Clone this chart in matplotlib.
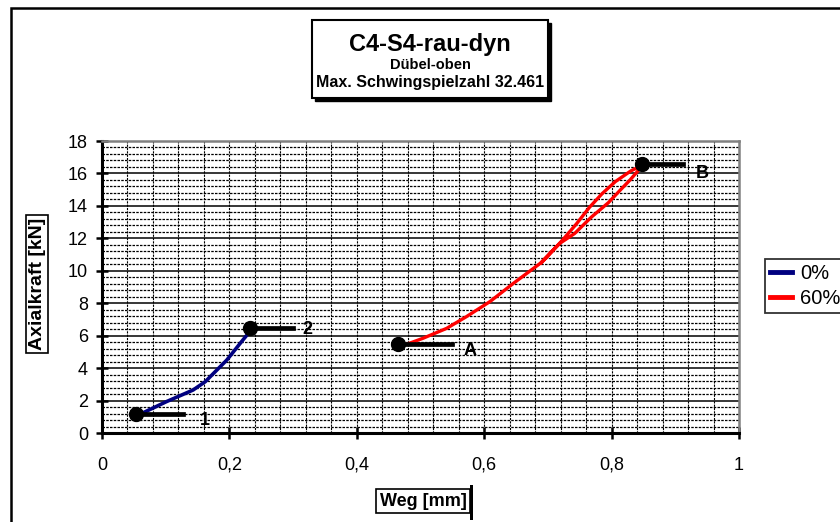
import matplotlib
matplotlib.use("Agg")
from matplotlib import pyplot as plt
from matplotlib.patches import Rectangle
from matplotlib.ticker import MultipleLocator, FuncFormatter

plt.rcParams['font.family'] = ['Liberation Sans', 'DejaVu Sans']

# 0% curve (blue)
weg_0 = [0.054, 0.101, 0.143, 0.162, 0.196, 0.217, 0.235]
kraft_0 = [1.05, 1.93, 2.65, 3.16, 4.5, 5.53, 6.4]

# 60% curve (red) - rising part then loop up to B and back down
weg_60 = [0.468, 0.504, 0.541, 0.572, 0.609, 0.646, 0.688, 0.719,
          0.742, 0.768, 0.795, 0.813, 0.829, 0.845, 0.850,
          0.845, 0.830, 0.806, 0.785, 0.765, 0.745, 0.722, 0.690]
kraft_60 = [5.32, 5.84, 6.45, 7.17, 8.1, 9.23, 10.46, 11.7,
            12.3, 13.3, 14.2, 14.95, 15.6, 16.32, 16.55,
            16.45, 16.15, 15.5, 14.75, 13.9, 12.9, 11.85, 10.5]

# marked points with leader line end and label position
pt_names = ["1", "2", "A", "B"]
pt_x = [0.053, 0.232, 0.465, 0.848]
pt_y = [1.15, 6.5, 5.5, 16.6]
pt_line_end = [0.127, 0.30, 0.549, 0.912]
pt_label_x = [0.162, 0.322, 0.578, 0.943]
pt_label_y = [0.8, 6.35, 5.1, 16.0]

fig = plt.figure(figsize=(8.4, 5.22), dpi=100)

def fx(px):
    return px / 840

def fy(py):
    return 1 - py / 522

# outer chart border
fig.patches.append(Rectangle((fx(11), fy(900)), fx(1000), fy(8) - fy(900),
                             transform=fig.transFigure, fill=False,
                             edgecolor="black", linewidth=1.8))

ax = fig.add_axes([fx(102), fy(433), fx(739) - fx(102), fy(141) - fy(433)])

ax.plot(weg_0, kraft_0, color="#000080", linewidth=2.6, label="0%", zorder=3)
ax.plot(weg_60, kraft_60, color="#FF0000", linewidth=2.4, label="60%", zorder=3)

for name, x, y, xe, lx, ly in zip(pt_names, pt_x, pt_y, pt_line_end, pt_label_x, pt_label_y):
    ax.plot([x, xe], [y, y], color="black", linewidth=3.4, zorder=4)
    ax.plot(x, y, "o", color="black", markersize=10, zorder=5)
    ax.text(lx, ly, name, fontsize=13, fontweight="bold", ha="center", va="center")

ax.set_xlim(0, 1)
ax.set_ylim(0, 18)
ax.xaxis.set_major_locator(MultipleLocator(0.2))
ax.xaxis.set_minor_locator(MultipleLocator(0.04))
ax.yaxis.set_major_locator(MultipleLocator(2))
ax.yaxis.set_minor_locator(MultipleLocator(0.4))
ax.xaxis.set_major_formatter(FuncFormatter(lambda v, p: ("%g" % round(v, 1)).replace(".", ",")))

ax.grid(which="both", axis="x", color="black", linewidth=0.8, linestyle=(0, (2, 1)))
ax.grid(which="minor", axis="y", color="black", linewidth=0.9, linestyle=(0, (2, 1)))
ax.grid(which="major", axis="y", color="black", linewidth=1.1, linestyle="-")
ax.set_axisbelow(True)

ax.tick_params(which="major", direction="inout", length=8, width=1.8, labelsize=13, pad=6)
ax.tick_params(which="minor", length=0)
ax.tick_params(axis="x", pad=13)
for s in ["left", "bottom"]:
    ax.spines[s].set_linewidth(2.2)
    ax.spines[s].set_color("black")
for s in ["top", "right"]:
    ax.spines[s].set_linewidth(1.8)
    ax.spines[s].set_color("#808080")

# title box with shadow
fig.patches.append(Rectangle((fx(315), fy(101)), fx(236), fy(23) - fy(101),
                             transform=fig.transFigure, facecolor="black", edgecolor="black"))
fig.patches.append(Rectangle((fx(312), fy(98)), fx(236), fy(20) - fy(98),
                             transform=fig.transFigure, facecolor="white", edgecolor="black", linewidth=1.5))
fig.text(fx(430), fy(44), "C4-S4-rau-dyn", fontsize=17, fontweight="bold", ha="center", va="center")
fig.text(fx(430), fy(65), "Dübel-oben", fontsize=10.5, fontweight="bold", ha="center", va="center")
fig.text(fx(430), fy(83), "Max. Schwingspielzahl 32.461", fontsize=11.5, fontweight="bold", ha="center", va="center")

# axis labels in boxes
fig.text(fx(37), fy(284), "Axialkraft [kN]", fontsize=14, fontweight="bold", rotation=90,
         ha="center", va="center",
         bbox=dict(boxstyle="square,pad=0.15", facecolor="white", edgecolor="black", linewidth=1.2))
fig.patches.append(Rectangle((fx(470), fy(520)), fx(2.5), fy(485) - fy(520),
                             transform=fig.transFigure, facecolor="black", edgecolor="none"))
fig.text(fx(423), fy(501), "Weg [mm]", fontsize=13, fontweight="bold",
         ha="center", va="center",
         bbox=dict(boxstyle="square,pad=0.2", facecolor="white", edgecolor="black", linewidth=1.2))

leg = fig.legend(loc="upper left", bbox_to_anchor=(fx(765), fy(259)), fontsize=14.5,
                 frameon=True, fancybox=False, handlelength=1.1, handletextpad=0.4,
                 labelspacing=0.3, borderpad=0.25, borderaxespad=0)
leg.get_frame().set_edgecolor("black")
leg.get_frame().set_linewidth(1.3)
for line in leg.get_lines():
    line.set_linewidth(3.5)

plt.savefig("out.png", dpi=100)
